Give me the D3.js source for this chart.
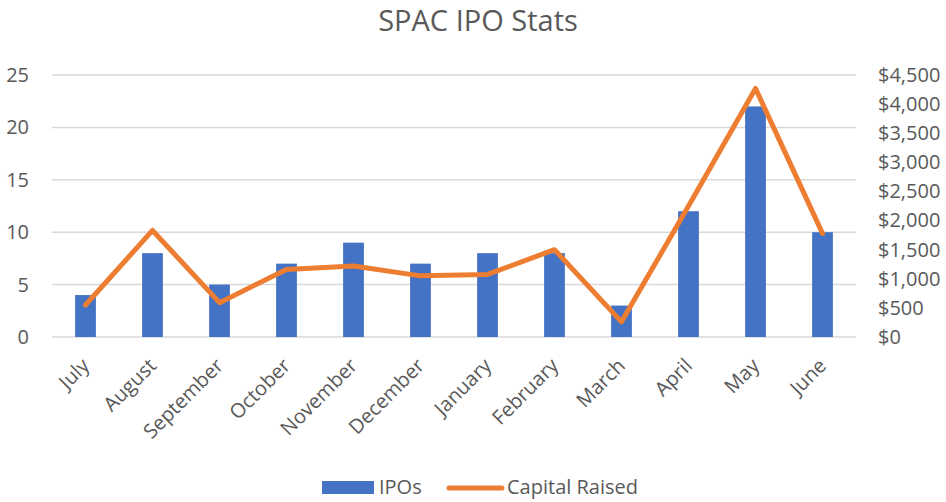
<!DOCTYPE html>
<html>
<head>
<meta charset="utf-8">
<script src="https://cdn.jsdelivr.net/npm/d3@7"></script>
<style>
  body { margin: 0; background: #fff; }
  text { font-family: "Open Sans", "Noto Sans", sans-serif; fill: #595959; }
</style>
</head>
<body>
<div id="chart"></div>
<script>
// Data
const months = ["July", "August", "September", "October", "November", "December",
                "January", "February", "March", "April", "May", "June"];
const ipos = [4, 8, 5, 7, 9, 7, 8, 8, 3, 12, 22, 10];
const capital = [550, 1830, 590, 1160, 1220, 1050, 1075, 1500, 260, 2250, 4270, 1780];
const leftTicks = [0, 5, 10, 15, 20, 25];
const rightTicks = [0, 500, 1000, 1500, 2000, 2500, 3000, 3500, 4000, 4500];

const W = 946, H = 502;
const margin = {top: 75, right: 90, bottom: 165, left: 52},
      width = W - margin.left - margin.right,
      height = H - margin.top - margin.bottom;

const svg = d3.select("#chart")
  .append("svg")
    .attr("width", W)
    .attr("height", H);

const g = svg.append("g")
    .attr("transform", `translate(${margin.left},${margin.top})`);

// Scales
const x = d3.scaleBand().domain(months).range([0, width]).padding(0);
const y = d3.scaleLinear().domain([0, 25]).range([height, 0]);
const y2 = d3.scaleLinear().domain([0, 4500]).range([height, 0]);

// Gridlines
g.append("g")
  .selectAll("line")
  .data(leftTicks)
  .join("line")
    .attr("x1", 0)
    .attr("x2", width)
    .attr("y1", d => y(d))
    .attr("y2", d => y(d))
    .attr("stroke", "#d9d9d9")
    .attr("stroke-width", 1.5);

// Left axis
const yAxis = g.append("g")
  .call(d3.axisLeft(y).tickValues(leftTicks).tickSize(0).tickPadding(23));
yAxis.select(".domain").remove();
yAxis.selectAll("text").style("font-size", "20px").attr("fill", "#595959");

// Right axis
const y2Axis = g.append("g")
  .attr("transform", `translate(${width},0)`)
  .call(d3.axisRight(y2).tickValues(rightTicks).tickSize(0).tickPadding(22)
    .tickFormat(d => "$" + d3.format(",")(d)));
y2Axis.select(".domain").remove();
y2Axis.selectAll("text").style("font-size", "20px").attr("fill", "#595959");

// Bars
const barW = x.bandwidth() * 0.31;
g.append("g")
  .selectAll("rect")
  .data(months)
  .join("rect")
    .attr("x", (d) => x(d) + x.bandwidth() / 2 - barW / 2)
    .attr("y", (d, i) => y(ipos[i]))
    .attr("width", barW)
    .attr("height", (d, i) => height - y(ipos[i]))
    .attr("fill", "#4472C4");

// X axis labels
const xAxis = g.append("g")
  .attr("transform", `translate(0,${height})`)
  .call(d3.axisBottom(x).tickSize(0).tickPadding(0));
xAxis.select(".domain").remove();
xAxis.selectAll("text")
  .style("font-size", "20px")
  .attr("fill", "#595959")
  .attr("dy", 0)
  .attr("transform", "translate(5,30)rotate(-45)")
  .style("text-anchor", "end");

// Capital raised line
const line = d3.line()
  .x((d, i) => x(months[i]) + x.bandwidth() / 2)
  .y(d => y2(d));
g.append("path")
  .datum(capital)
  .attr("fill", "none")
  .attr("stroke", "#ED7D31")
  .attr("stroke-width", 5)
  .attr("stroke-linejoin", "round")
  .attr("stroke-linecap", "round")
  .attr("d", line);

// Title
svg.append("text")
  .attr("x", 478)
  .attr("y", 31)
  .attr("text-anchor", "middle")
  .style("font-size", "29px")
  .text("SPAC IPO Stats");

// Legend
const legend = svg.append("g");
legend.append("rect")
  .attr("x", 322).attr("y", 481)
  .attr("width", 52).attr("height", 13)
  .attr("fill", "#4472C4");
legend.append("text")
  .attr("x", 379).attr("y", 494)
  .style("font-size", "20px")
  .text("IPOs");
legend.append("line")
  .attr("x1", 449).attr("x2", 502)
  .attr("y1", 488).attr("y2", 488)
  .attr("stroke", "#ED7D31")
  .attr("stroke-width", 5)
  .attr("stroke-linecap", "round");
legend.append("text")
  .attr("x", 507).attr("y", 494)
  .style("font-size", "20px")
  .text("Capital Raised");
</script>
</body>
</html>
